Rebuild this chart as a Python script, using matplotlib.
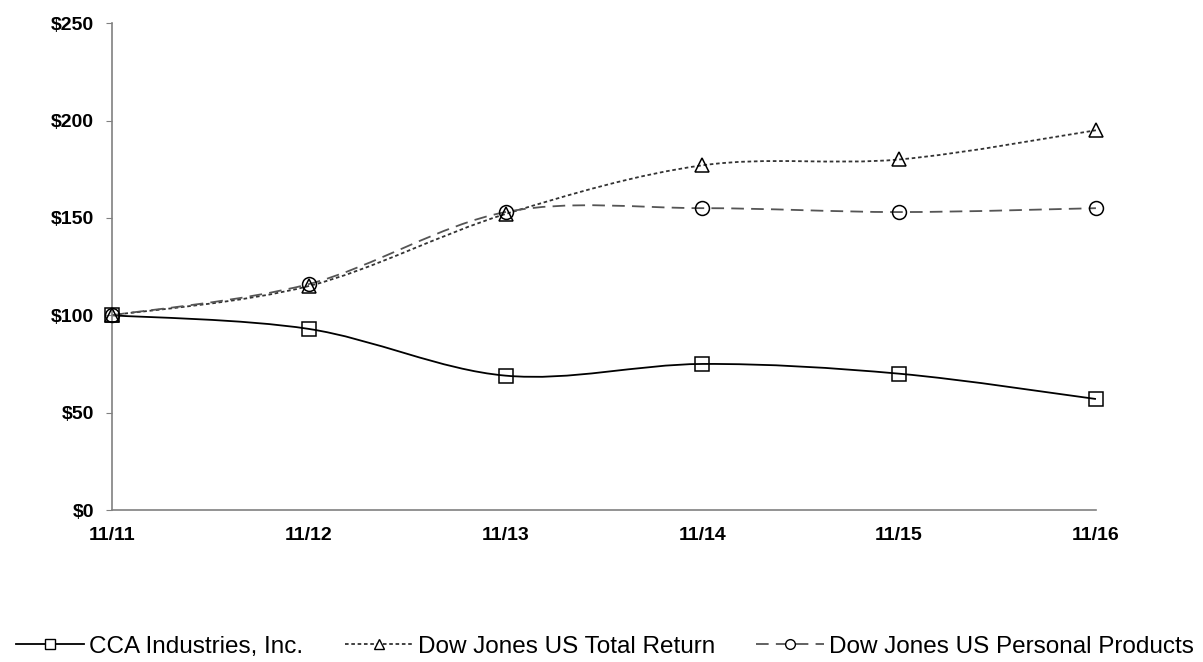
import matplotlib
matplotlib.use('Agg')
import matplotlib.pyplot as plt
from matplotlib.path import Path
from matplotlib.patches import PathPatch
from matplotlib.lines import Line2D

plt.rcParams['font.family'] = ['Liberation Sans', 'DejaVu Sans']

# 数据
years = ['11/11', '11/12', '11/13', '11/14', '11/15', '11/16']
cca = [100, 93, 69, 75, 70, 57]
dj_total = [100, 115, 152, 177, 180, 195]
dj_personal = [100, 116, 153, 155, 153, 155]


def smooth_path(xs, ys):
    # Excel 风格的平滑线 (Catmull-Rom -> Bezier)
    pts = list(zip(xs, ys))
    verts = [pts[0]]
    codes = [Path.MOVETO]
    n = len(pts)
    for i in range(n - 1):
        p0 = pts[i - 1] if i > 0 else pts[i]
        p1 = pts[i]
        p2 = pts[i + 1]
        p3 = pts[i + 2] if i + 2 < n else pts[i + 1]
        c1 = (p1[0] + (p2[0] - p0[0]) / 6, p1[1] + (p2[1] - p0[1]) / 6)
        c2 = (p2[0] - (p3[0] - p1[0]) / 6, p2[1] - (p3[1] - p1[1]) / 6)
        verts += [c1, c2, p2]
        codes += [Path.CURVE4] * 3
    return Path(verts, codes)


fig = plt.figure(figsize=(12.03, 6.62), dpi=100)
ax = fig.add_axes([0.093, 0.2296, 0.818, 0.7354])

x = list(range(len(years)))
series = [
    (cca, '-', 'black', 's', 'CCA Industries, Inc.'),
    (dj_total, (0, (2, 1.5)), '#333333', '^', 'Dow Jones US Total Return'),
    (dj_personal, (0, (7, 4)), '#555555', 'o', 'Dow Jones US Personal Products'),
]
handles = []
for ys, ls, col, mk, lab in series:
    ax.add_patch(PathPatch(smooth_path(x, ys), fill=False, edgecolor=col,
                           linestyle=ls, linewidth=1.3, zorder=2,
                           clip_on=False))
    ax.plot(x, ys, linestyle='none', marker=mk, markersize=10,
            markerfacecolor='none', markeredgecolor='black',
            markeredgewidth=1.1, zorder=3, clip_on=False)
    handles.append(Line2D([], [], color=col, linestyle=ls, linewidth=1.3,
                          marker=mk, markersize=7, markerfacecolor='white',
                          markeredgecolor='black', markeredgewidth=1))

ax.set_xlim(0, 5)
ax.set_ylim(0, 250)
ax.set_yticks([0, 50, 100, 150, 200, 250])
ax.set_yticklabels(['$0', '$50', '$100', '$150', '$200', '$250'])
ax.set_xticks(x)
ax.set_xticklabels(years)
for s in ['top', 'right']:
    ax.spines[s].set_visible(False)
for s in ['left', 'bottom']:
    ax.spines[s].set_color('#808080')
    ax.spines[s].set_linewidth(1.2)
ax.tick_params(axis='y', length=4, color='#808080', labelsize=14, pad=9)
ax.tick_params(axis='x', length=0, labelsize=14, pad=12)
for t in ax.get_xticklabels() + ax.get_yticklabels():
    t.set_fontweight('bold')

fig.legend(handles, [s[4] for s in series], loc='center',
           bbox_to_anchor=(0.503, 0.023), ncol=3, frameon=False,
           fontsize=17.5, handlelength=2.8, handletextpad=0.2,
           columnspacing=1.7, borderpad=0, borderaxespad=0)

plt.savefig('out.png', dpi=100)
